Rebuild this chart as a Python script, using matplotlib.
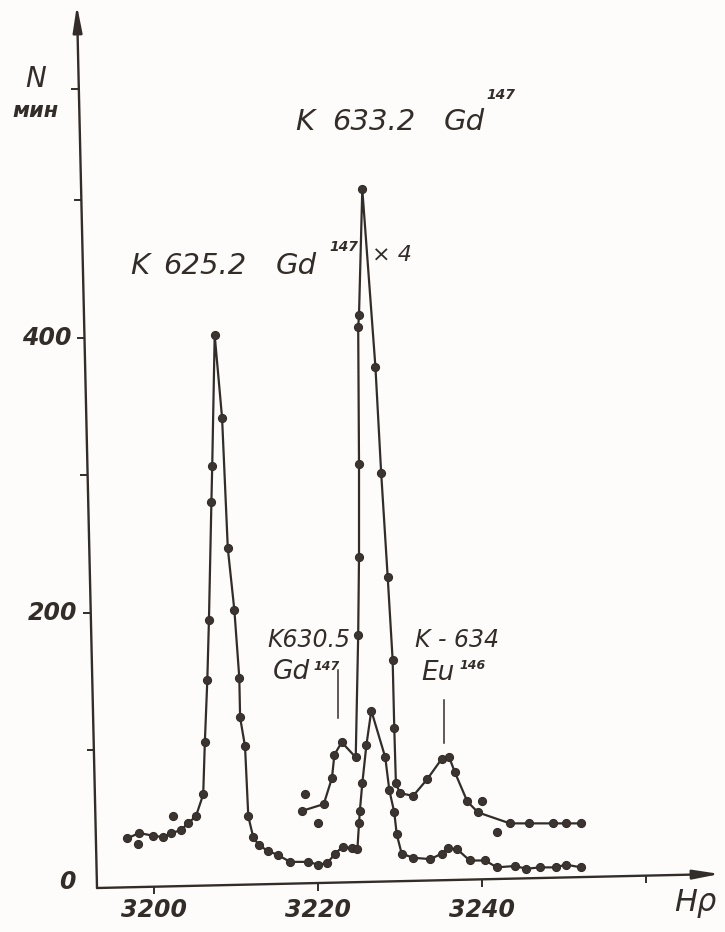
import matplotlib
matplotlib.use("Agg")
import matplotlib.pyplot as plt

# Spectrum lines, counts per minute vs H*rho (gauss*cm)
# lower curve: measured counts
lower_hr = [3196.7, 3198.2, 3199.9, 3201.1, 3202.1, 3203.3, 3204.1, 3205.1, 3206.0, 3206.2,
            3206.5, 3206.7, 3207.0, 3207.1, 3207.4, 3208.3, 3209.0, 3209.8, 3210.4, 3210.5,
            3211.1, 3211.5, 3212.1, 3212.8, 3213.9, 3215.1, 3216.6, 3218.8, 3220.0, 3221.1,
            3222.1, 3223.0, 3224.1, 3224.8, 3225.0, 3225.1, 3225.4, 3225.9, 3226.5, 3228.2,
            3228.7, 3229.3, 3229.6, 3230.2, 3231.6, 3233.7, 3235.1, 3235.9, 3237.0, 3238.5,
            3240.4, 3241.8, 3244.0, 3245.4, 3247.1, 3249.0, 3250.2, 3252.1]
lower_n = [36, 40, 38, 37, 40, 42, 47, 52, 68, 106,
           151, 195, 281, 307, 402, 342, 247, 202, 153, 124,
           103, 52, 37, 31, 27, 24, 19, 19, 17, 18,
           25, 30, 29, 28, 47, 56, 76, 104, 129, 95,
           71, 55, 39, 25, 22, 21, 25, 29, 28, 20,
           20, 15, 16, 14, 15, 15, 17, 15]
lower_off_hr = [3198.0, 3202.3]
lower_off_n = [32, 52]

# upper curve: the 633.2 region scaled x4
upper_hr = [3218.0, 3220.7, 3221.7, 3222.0, 3222.9, 3224.6, 3224.9, 3225.0, 3225.0, 3224.9,
            3225.0, 3225.4, 3227.0, 3227.7, 3228.5, 3229.1, 3229.3, 3229.5, 3230.0, 3231.6,
            3233.3, 3235.1, 3236.0, 3236.7, 3238.2, 3239.5, 3243.4, 3245.7, 3248.7, 3250.2,
            3252.1]
upper_n = [56, 61, 80, 97, 106, 95, 184, 241, 308, 408,
           417, 508, 379, 302, 226, 166, 116, 76, 69, 67,
           79, 94, 95, 84, 63, 55, 47, 47, 47, 47,
           47]
upper_off_hr = [3218.4, 3220.0, 3240.0, 3241.8]
upper_off_n = [68, 47, 63, 41]

x_ticks = [3200, 3220, 3240, 3260]
x_ticklabels = ["3200", "3220", "3240", ""]
y_ticks = [100, 200, 300, 400, 500, 581]
y_ticklabels = {0: "0", 200: "200", 400: "400"}

ink = "#332d2a"
paper = "#fdfcfa"

fig = plt.figure(figsize=(7.25, 9.32), dpi=100, facecolor=paper)
ax = fig.add_axes([0, 0, 1, 1])
ax.set_facecolor(paper)
ax.set_xlim(3181.22, 3269.63)
ax.set_ylim(-32, 645.8)
ax.axis("off")

# hand-drawn axes: slightly tilted lines with arrow heads
x0, y_top, x_top = 3193.05, 642.0, 3190.6
x_end, y_end = 3269.0, 10.2
arrow = dict(arrowstyle="-|>,head_length=1.6,head_width=0.28", lw=1.7, color=ink,
             shrinkA=0, shrinkB=0)
ax.annotate("", xy=(x_top, y_top), xytext=(x0, 0), arrowprops=arrow)
ax.annotate("", xy=(x_end, y_end), xytext=(x0, 0), arrowprops=arrow)


def yaxis_x(v):
    return x0 + (x_top - x0) * v / y_top


def xaxis_y(h):
    return y_end * (h - x0) / (x_end - x0)


for v in y_ticks:
    xa = yaxis_x(v)
    ax.plot([xa - 0.9, xa], [v, v], color=ink, lw=1.4, solid_capstyle="butt")
for h in x_ticks:
    ya = xaxis_y(h)
    ax.plot([h, h], [ya, ya - 5.5], color=ink, lw=1.4, solid_capstyle="butt")

tfont = dict(color=ink, style="italic", family="DejaVu Sans")
for h, lab in zip(x_ticks, x_ticklabels):
    ax.text(h, -16, lab, fontsize=17, ha="center", va="center", weight="bold", **tfont)
for v, lab in y_ticklabels.items():
    shift = 2.6 if v == 0 else 1.6
    ax.text(yaxis_x(v) - shift, v + (4 if v == 0 else 0), lab, fontsize=17, ha="right",
            va="center", weight="bold", **tfont)

ax.text(3266.0, -11, "Hρ", fontsize=22, ha="center", va="center", **tfont)
ax.text(3185.6, 588, "N", fontsize=20, ha="center", va="center", **tfont)
ax.text(3185.6, 565, "мин", fontsize=15, ha="center", va="center", weight="bold", **tfont)

# curves and points
mk = dict(marker="o", markersize=5.8, markerfacecolor="#3b3431", markeredgecolor=ink,
          markeredgewidth=0.8)
ax.plot(lower_hr, lower_n, color=ink, lw=1.6, **mk)
ax.plot(upper_hr, upper_n, color=ink, lw=1.6, **mk)
ax.plot(lower_off_hr, lower_off_n, ls="none", **mk)
ax.plot(upper_off_hr, upper_off_n, ls="none", **mk)

# line labels
ax.text(3198.3, 452, "K", fontsize=21, ha="center", va="center", **tfont)
ax.text(3206.2, 452, "625.2", fontsize=21, ha="center", va="center", **tfont)
ax.text(3217.3, 452, "Gd", fontsize=21, ha="center", va="center", **tfont)
ax.text(3223.2, 466, "147", fontsize=10, ha="center", va="center", weight="bold", **tfont)

ax.text(3218.4, 557, "K", fontsize=21, ha="center", va="center", **tfont)
ax.text(3226.8, 557, "633.2", fontsize=21, ha="center", va="center", **tfont)
ax.text(3237.8, 557, "Gd", fontsize=21, ha="center", va="center", **tfont)
ax.text(3242.3, 577, "147", fontsize=10, ha="center", va="center", weight="bold", **tfont)

ax.text(3229.0, 460, "× 4", fontsize=16, ha="center", va="center", **tfont)

ax.text(3218.9, 180, "K630.5", fontsize=17, ha="center", va="center", **tfont)
ax.text(3216.7, 157, "Gd", fontsize=19, ha="center", va="center", **tfont)
ax.text(3221.1, 161, "147", fontsize=9, ha="center", va="center", weight="bold", **tfont)
ax.plot([3222.4, 3222.4], [158.5, 123.6], color=ink, lw=1.1)

ax.text(3237.0, 180, "K - 634", fontsize=17, ha="center", va="center", **tfont)
ax.text(3234.6, 156, "Eu", fontsize=19, ha="center", va="center", **tfont)
ax.text(3238.9, 162, "146", fontsize=9, ha="center", va="center", weight="bold", **tfont)
ax.plot([3235.4, 3235.4], [136.7, 105.5], color=ink, lw=1.1)

fig.savefig("out.png", dpi=100, facecolor=paper)
